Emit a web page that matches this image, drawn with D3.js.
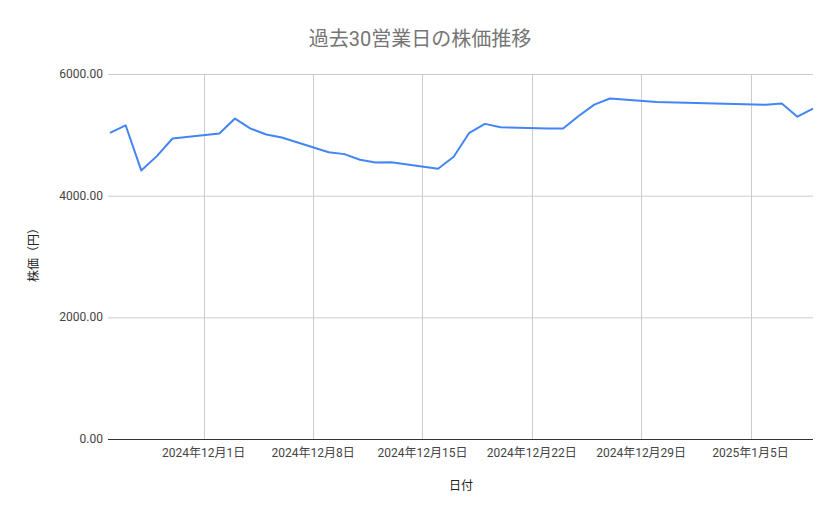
<!DOCTYPE html>
<html>
<head>
<meta charset="utf-8">
<script src="https://cdn.jsdelivr.net/npm/d3@7"></script>
<style>
  body { margin: 0; background: #fff; }
  text { font-family: Roboto, "Noto Sans CJK JP", sans-serif; }
</style>
</head>
<body>
<script>
(function(){
  var width = 839;
  var height = 519;

  // 30 trading days
  var dates = [
    "2024-11-25","2024-11-26","2024-11-27","2024-11-28","2024-11-29",
    "2024-12-02","2024-12-03","2024-12-04","2024-12-05","2024-12-06",
    "2024-12-09","2024-12-10","2024-12-11","2024-12-12","2024-12-13",
    "2024-12-16","2024-12-17","2024-12-18","2024-12-19","2024-12-20",
    "2024-12-23","2024-12-24","2024-12-25","2024-12-26","2024-12-27",
    "2024-12-30","2025-01-06","2025-01-07","2025-01-08","2025-01-09"
  ];
  var prices = [
    5033, 5157, 4415, 4650, 4940,
    5021, 5267, 5103, 5005, 4956,
    4715, 4683, 4590, 4546, 4551,
    4443, 4639, 5033, 5180, 5125,
    5105, 5105, 5310, 5497, 5597,
    5538, 5493, 5515, 5298, 5431
  ];
  var yTicks = [0, 2000, 4000, 6000];

  var title = "過去30営業日の株価推移";
  var xTitle = "日付";
  var yTitle = "株価（円）";

  var margin = { top: 74, right: 26, bottom: 80, left: 110 };
  var parse = d3.timeParse("%Y-%m-%d");
  var data = dates.map((d, i) => ({ date: parse(d), value: prices[i] }));

  var svg = d3.select("body").append("svg")
    .attr("width", width)
    .attr("height", height);

  var x = d3.scaleTime()
    .domain(d3.extent(data, d => d.date))
    .range([margin.left, width - margin.right]);

  var y = d3.scaleLinear()
    .domain([0, 6000])
    .range([height - margin.bottom, margin.top]);

  // horizontal grid
  svg.append("g")
    .selectAll("line")
    .data(yTicks.filter(t => t > 0))
    .enter().append("line")
    .attr("x1", margin.left - 2)
    .attr("x2", width - margin.right)
    .attr("y1", d => y(d) + 0.5)
    .attr("y2", d => y(d) + 0.5)
    .style("stroke", "#cccccc");

  // vertical grid on Sundays
  var weekTicks = x.ticks(d3.timeWeek.every(1));
  svg.append("g")
    .selectAll("line")
    .data(weekTicks)
    .enter().append("line")
    .attr("x1", d => Math.round(x(d)) + 0.5)
    .attr("x2", d => Math.round(x(d)) + 0.5)
    .attr("y1", margin.top)
    .attr("y2", y(0))
    .style("stroke", "#cccccc");

  // y labels
  svg.append("g")
    .selectAll("text")
    .data(yTicks)
    .enter().append("text")
    .attr("x", margin.left - 7)
    .attr("y", d => y(d) + 4)
    .attr("text-anchor", "end")
    .style("font-size", "12px")
    .style("fill", "#444")
    .text(d => d3.format(".2f")(d));

  // x labels
  var fmt = d3.timeFormat("%Y年%-m月%-d日");
  svg.append("g")
    .selectAll("text")
    .data(weekTicks)
    .enter().append("text")
    .attr("x", d => x(d))
    .attr("y", y(0) + 18)
    .attr("text-anchor", "middle")
    .style("font-size", "12px")
    .style("fill", "#444")
    .text(d => fmt(d));

  // baseline
  svg.append("line")
    .attr("x1", margin.left - 2)
    .attr("x2", width - margin.right)
    .attr("y1", y(0) + 0.5)
    .attr("y2", y(0) + 0.5)
    .style("stroke", "#333")
    .style("stroke-width", 1.2);

  var line = d3.line()
    .x(d => x(d.date))
    .y(d => y(d.value));

  svg.append("path")
    .datum(data)
    .attr("d", line)
    .style("fill", "none")
    .style("stroke", "#4285f4")
    .style("stroke-width", 2)
    .style("stroke-linejoin", "round");

  // titles
  svg.append("text")
    .attr("x", 420)
    .attr("y", 46)
    .attr("text-anchor", "middle")
    .style("font-size", "20px")
    .style("fill", "#757575")
    .text(title);

  svg.append("text")
    .attr("x", 461)
    .attr("y", 490)
    .attr("text-anchor", "middle")
    .style("font-size", "12px")
    .style("fill", "#222")
    .text(xTitle);

  svg.append("text")
    .attr("transform", "translate(38,252) rotate(-90)")
    .attr("text-anchor", "middle")
    .style("font-size", "12px")
    .style("fill", "#222")
    .text(yTitle);
})();
</script>
</body>
</html>
